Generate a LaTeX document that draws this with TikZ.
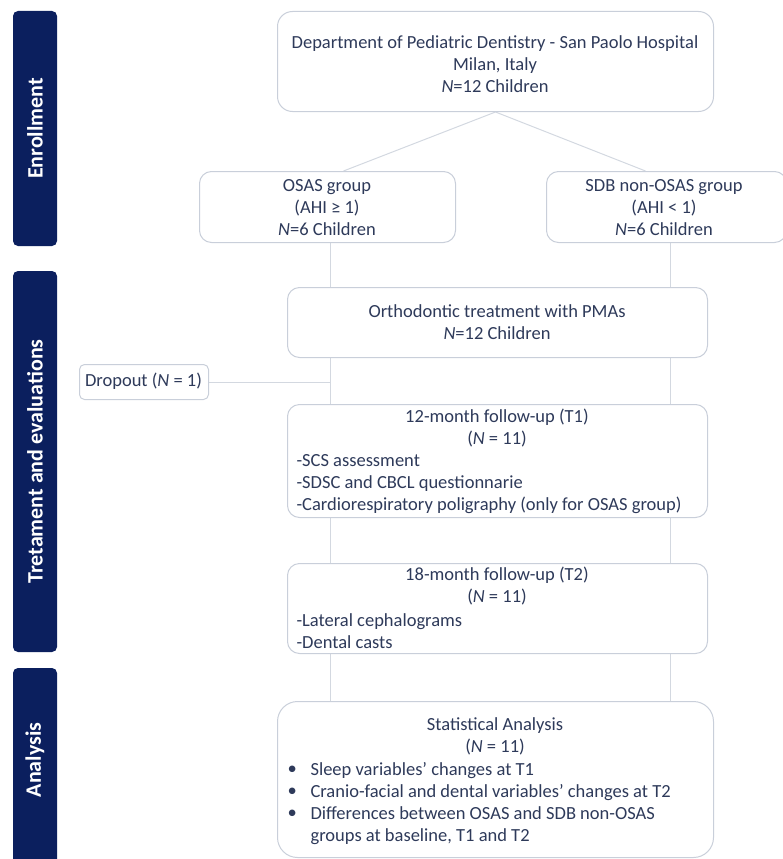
\documentclass[tikz,border=0pt]{standalone}
\usepackage{fontspec}
\setmainfont{Carlito}
\usetikzlibrary{backgrounds}
\definecolor{navy}{HTML}{0B1F5E}
\definecolor{txt}{HTML}{2E3A5A}
\definecolor{edgec}{HTML}{C9CFDA}
\definecolor{connc}{HTML}{D3D8E0}
\begin{document}
\begin{tikzpicture}[x=1pt,y=-1pt,
  every node/.style={text=txt, font=\fontsize{18.5}{22}\selectfont},
  box/.style={draw=edgec, line width=1pt, rounded corners=12pt, fill=white, inner sep=0pt, anchor=north west, align=center},
  bar/.style={fill=navy, rounded corners=5pt, draw=none},
  bartext/.style={rotate=90, text=white, font=\bfseries\fontsize{22}{24}\selectfont},
  conn/.style={draw=connc, line width=1pt}]
\clip (0,0) rectangle (783,859);
% sidebars
\path[bar] (13,11) rectangle (57,246);
\node[bartext] (barA) at (35,128.5) {Enrollment};
\path[bar] (13,271) rectangle (57,652);
\node[bartext] (barB) at (35,461.5) {Tretament and evaluations};
\path[bar] (13,668) rectangle (57,890);
\node[bartext] (barC) at (35,760) {Analysis};
% boxes
\node[box, rounded corners=15pt, minimum width=436pt, minimum height=100pt] (top) at (277,11) {};
\node (toptext) at (495,64) [align=center] {Department of Pediatric Dentistry - San Paolo Hospital\\Milan, Italy\\\textit{N}=12 Children};
\node[box, minimum width=256pt, minimum height=71pt] (osas) at (199,171) {};
\node (osastext) at (327,208) [align=center] {OSAS group\\(AHI ≥ 1)\\\textit{N}=6 Children};
\node[box, minimum width=240pt, minimum height=71pt] (sdb) at (546,171) {};
\node (sdbtext) at (664,208) [align=center] {SDB non-OSAS group\\(AHI < 1)\\\textit{N}=6 Children};
\node[box, minimum width=420pt, minimum height=70pt] (ortho) at (287,287) {};
\node (orthotext) at (497,322.5) [align=center] {Orthodontic treatment with PMAs\\\textit{N}=12 Children};
\node[box, rounded corners=5pt, minimum width=129pt, minimum height=35pt] (drop) at (79,364) {};
\node (droptext) at (143.5,381.5) {Dropout (\textit{N} = 1)};
\node[box, minimum width=420pt, minimum height=113pt] (fu1) at (287,404) {};
\node (fu1title) at (497,428.5) [align=center] {12-month follow-up (T1)\\(\textit{N} = 11)};
\node (fu1list) at (293,484) [anchor=west, align=left] {-SCS assessment\\-SDSC and CBCL questionnarie\\-Cardiorespiratory poligraphy (only for OSAS group)};
\node[box, minimum width=420pt, minimum height=90pt] (fu2) at (287,563) {};
\node (fu2title) at (497,586.5) [align=center] {18-month follow-up (T2)\\(\textit{N} = 11)};
\node (fu2list) at (293,631) [anchor=west, align=left] {-Lateral cephalograms\\-Dental casts};
\node[box, rounded corners=20pt, minimum width=436pt, minimum height=156pt] (stats) at (277,701) {};
\node (statstitle) at (495,736.5) [align=center] {Statistical Analysis\\(\textit{N} = 11)};
\node (statsbul) at (284,792.5) [anchor=west, align=left] {•\\•\\•};
\node (statslist) at (307,803.5) [anchor=west, align=left] {Sleep variables’ changes at T1\\Cranio-facial and dental variables’ changes at T2\\Differences between OSAS and SDB non-OSAS\\groups at baseline, T1 and T2};
% connectors
\coordinate (lx) at (330,0);
\coordinate (rx) at (670,0);
\begin{scope}[on background layer]
\draw[conn] (top.south) -- ([xshift=16pt]osas.north);
\draw[conn] (top.south) -- ([xshift=-21pt]sdb.north);
\draw[conn] (osas.south -| lx) -- (stats.north -| lx);
\draw[conn] (sdb.south -| rx) -- (stats.north -| rx);
\draw[conn] (drop.east) -- (drop.east -| lx);
\end{scope}
\end{tikzpicture}
\end{document}
